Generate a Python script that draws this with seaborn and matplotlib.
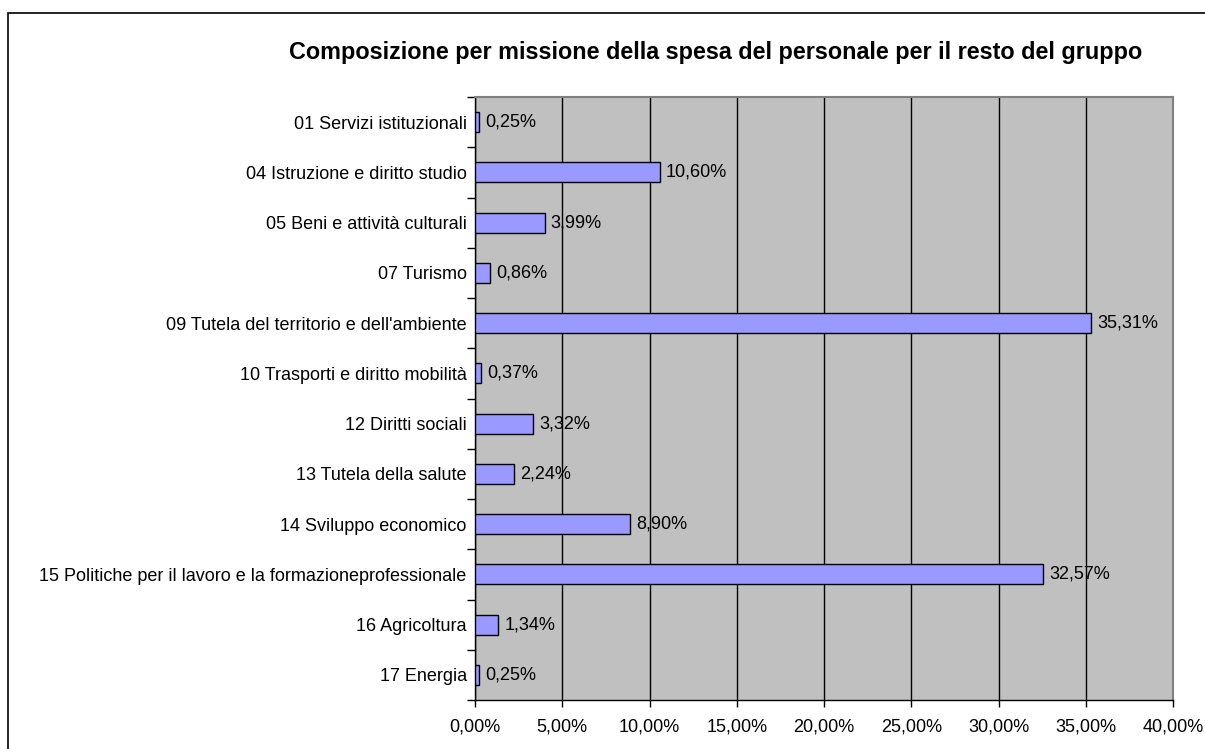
import pandas as pd
import seaborn as sns
import matplotlib.pyplot as plt
from matplotlib.patches import Rectangle
from matplotlib.ticker import FuncFormatter, FixedLocator

# --- data ---
missioni = [
    "01 Servizi istituzionali",
    "04 Istruzione e diritto studio",
    "05 Beni e attività culturali",
    "07 Turismo",
    "09 Tutela del territorio e dell'ambiente",
    "10 Trasporti e diritto mobilità",
    "12 Diritti sociali",
    "13 Tutela della salute",
    "14 Sviluppo economico",
    "15 Politiche per il lavoro e la formazioneprofessionale",
    "16 Agricoltura",
    "17 Energia",
]
quote = [0.25, 10.60, 3.99, 0.86, 35.31, 0.37, 3.32, 2.24, 8.90, 32.57, 1.34, 0.25]
x_ticks = [0, 5, 10, 15, 20, 25, 30, 35, 40]
titolo = "Composizione per missione della spesa del personale per il resto del gruppo"

df = pd.DataFrame({"missione": missioni, "quota": quote})

sns.set_theme(style="white")
plt.rcParams["font.family"] = ["Liberation Sans", "DejaVu Sans"]
plt.rcParams["text.color"] = "black"

fig = plt.figure(figsize=(12.05, 7.49), dpi=100)
ax = fig.add_axes([475 / 1205, 1 - 700 / 749, (1173 - 475) / 1205, (700 - 97) / 749])

sns.barplot(data=df, x="quota", y="missione", orient="h", color="#9999FF",
            saturation=1, width=0.4, edgecolor="black", linewidth=1, ax=ax, zorder=3)

ax.set_facecolor("#C0C0C0")
ax.set_xlim(0, 40)
ax.set_ylim(len(missioni) - 0.5, -0.5)
ax.xaxis.set_major_locator(FixedLocator(x_ticks))
ax.xaxis.set_major_formatter(FuncFormatter(lambda v, p: f"{v:.2f}%".replace(".", ",")))
ax.grid(axis="x", color="black", linewidth=1, zorder=1)
ax.set_axisbelow(True)
ax.set_xlabel("")
ax.set_ylabel("")

# category boundary ticks on the y axis
ax.yaxis.set_minor_locator(FixedLocator([i - 0.5 for i in range(len(missioni) + 1)]))
ax.tick_params(axis="y", which="major", length=0, pad=6, labelsize=13, colors="black")
ax.tick_params(axis="y", which="minor", length=6, width=1, direction="out", left=True, color="black")
ax.tick_params(axis="x", which="major", length=5, width=1, direction="out", bottom=True,
               pad=8, labelsize=13, colors="black")

for side in ["left", "bottom"]:
    ax.spines[side].set_color("black")
    ax.spines[side].set_linewidth(1)
for side in ["top", "right"]:
    ax.spines[side].set_color("#808080")
    ax.spines[side].set_linewidth(1.5)

for i, v in enumerate(quote):
    ax.text(v + 0.35, i, f"{v:.2f}%".replace(".", ","), va="center", ha="left",
            fontsize=13, color="black", zorder=4)

fig.text(716 / 1205, 1 - 52 / 749, titolo, ha="center", va="center",
         fontsize=16.8, fontweight="bold", color="black")

# outer chart border
fig.patches.append(Rectangle((8 / 1205, -0.05), 1.2, 1 - 13 / 749 + 0.05,
                             transform=fig.transFigure, fill=False,
                             edgecolor="black", linewidth=1.2))

fig.savefig("out.png", dpi=100)
